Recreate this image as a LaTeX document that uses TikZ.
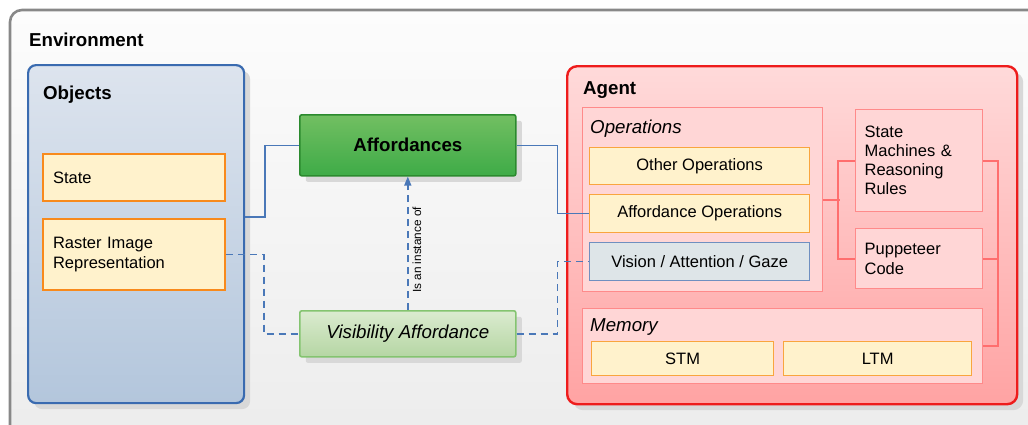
\documentclass[tikz,border=0pt]{standalone}
\usepackage{fontspec}
\setmainfont{Liberation Sans}
\usetikzlibrary{arrows.meta,shadows}

\definecolor{envline}{HTML}{888888}
\definecolor{envtop}{HTML}{FCFCFC}
\definecolor{envbot}{HTML}{ECECEC}
\definecolor{objline}{HTML}{3A6BB0}
\definecolor{objtop}{HTML}{DDE4EE}
\definecolor{objbot}{HTML}{B3C6DC}
\definecolor{noteline}{HTML}{F88A1C}
\definecolor{notefill}{HTML}{FFF2CC}
\definecolor{affline}{HTML}{2B8A2E}
\definecolor{afftop}{HTML}{72BF62}
\definecolor{affbot}{HTML}{3EAB47}
\definecolor{visline}{HTML}{84C470}
\definecolor{vistop}{HTML}{DBEBD0}
\definecolor{visbot}{HTML}{B5D6A3}
\definecolor{agentline}{HTML}{EE1C1C}
\definecolor{agenttop}{HTML}{FFDADA}
\definecolor{agentbot}{HTML}{FFA3A3}
\definecolor{partline}{HTML}{FF8A8A}
\definecolor{partfill}{HTML}{FFD6D6}
\definecolor{opline}{HTML}{F9A53E}
\definecolor{gazeline}{HTML}{6F8FC0}
\definecolor{gazefill}{HTML}{DEE5E8}
\definecolor{wire}{HTML}{4A78B8}
\definecolor{redwire}{HTML}{FF6E6E}
\definecolor{shade}{HTML}{D8D8D8}

\tikzset{
  body/.style={font=\fontsize{16.5}{19.5}\selectfont},
  head/.style={font=\bfseries\fontsize{18.7}{22}\selectfont, inner sep=0pt},
  headit/.style={font=\itshape\fontsize{18.7}{22}\selectfont, inner sep=0pt},
  shadowed/.style={drop shadow={shadow xshift=6pt, shadow yshift=-6pt, fill=shade, opacity=1}},
  objbox/.style={draw=objline, line width=2.2pt, rounded corners=8pt,
    top color=objtop, bottom color=objbot, shadowed, anchor=north west},
  notebox/.style={draw=noteline, line width=2pt, fill=notefill, anchor=north west,
    body, align=left, inner xsep=10pt},
  affbox/.style={draw=affline, line width=1.6pt, rounded corners=2pt,
    top color=afftop, bottom color=affbot, shadowed, anchor=north west,
    font=\bfseries\fontsize{18.7}{22}\selectfont},
  visbox/.style={draw=visline, line width=1.6pt, rounded corners=2pt,
    top color=vistop, bottom color=visbot, shadowed, anchor=north west,
    font=\itshape\fontsize{18.7}{22}\selectfont},
  agentbox/.style={draw=agentline, line width=2.4pt, rounded corners=10pt,
    top color=agenttop, bottom color=agentbot, shadowed, anchor=north west},
  partbox/.style={draw=partline, line width=1.3pt, fill=partfill, anchor=north west,
    body, align=left, inner xsep=9pt},
  opbox/.style={draw=opline, line width=1.3pt, fill=notefill, anchor=north west, body},
  gazebox/.style={draw=gazeline, line width=1.3pt, fill=gazefill, anchor=north west, body},
  wireline/.style={draw, color=wire, line width=1.5pt},
  dashwire/.style={wireline, dash pattern=on 7pt off 5pt},
  redline/.style={draw, color=redwire, line width=2pt},
}

\begin{document}
\begin{tikzpicture}[x=1pt, y=-1pt]
\useasboundingbox (0,0) rectangle (1028,424);

% environment frame, running off the right and bottom edges
\begin{scope}
  \clip (0,0) rectangle (1028,424);
  \path[draw=envline, line width=2.6pt, rounded corners=12pt,
        top color=envtop, bottom color=envbot] (10,10) rectangle (1050,450);
\end{scope}
\node[head, anchor=base west] (envlbl) at (29,46) {Environment};

% objects column
\node[objbox, minimum width=216pt, minimum height=338pt] (objects) at (27,64) {};
\node[head, anchor=base west] (objlbl) at (43,99) {Objects};
\node[notebox, minimum width=182pt, minimum height=47pt, text width=162pt] (state) at (42,153) {State};
\node[notebox, minimum width=182pt, minimum height=71pt, text width=162pt] (raster) at (42,218) {Raster Image\\Representation};

% affordances
\node[affbox, minimum width=216pt, minimum height=61pt] (aff) at (299,114) {Affordances};
\node[visbox, minimum width=216pt, minimum height=46pt] (vis) at (299,310) {Visibility Affordance};

% agent
\node[agentbox, minimum width=450pt, minimum height=338pt] (agent) at (566,65) {};
\node[head, anchor=base west] (agentlbl) at (583,94) {Agent};

\node[partbox, minimum width=240pt, minimum height=184pt] (ops) at (582,107) {};
\node[headit, anchor=base west] (opslbl) at (590,133) {Operations};
\node[opbox, minimum width=220pt, minimum height=37pt] (otherops) at (589,147) {Other Operations};
\node[opbox, minimum width=220pt, minimum height=38pt] (affops) at (589,194) {Affordance Operations};
\node[gazebox, minimum width=220pt, minimum height=38pt] (gaze) at (589,242) {Vision / Attention / Gaze};

\node[partbox, minimum width=127pt, minimum height=102pt, text width=109pt] (rules) at (855,109)
  {\baselineskip=18.7pt State\\Machines \&\\Reasoning\\Rules};
\node[partbox, minimum width=127pt, minimum height=60pt, text width=109pt] (pup) at (855,228)
  {\baselineskip=18.7pt Puppeteer\\Code};

\node[partbox, minimum width=400pt, minimum height=75pt] (mem) at (582,308) {};
\node[headit, anchor=base west] (memlbl) at (590,331) {Memory};
\node[opbox, minimum width=182pt, minimum height=34pt] (stm) at (591,341) {STM};
\node[opbox, minimum width=188pt, minimum height=34pt] (ltm) at (783,341) {LTM};

% links between objects, affordances and operations
\draw[wireline] ([yshift=17pt]objects.east) -- ++(20,0) |- (aff.west);
\draw[wireline] (aff.east) -- ++(41,0) |- (affops.west);
\draw[dashwire] (raster.east) -- ++(38,0) |- (vis.west);
\draw[dashwire] (vis.east) -- ++(41,0) |- (gaze.west);
\draw[dashwire, -{Triangle[length=9pt, width=7pt]}] (vis.north) --
  node[pos=0.45, rotate=90, anchor=north, inner sep=4pt, text=black,
       font=\fontsize{11.8}{14}\selectfont] (instlbl) {Is an instance of} (aff.south);

% internal agent wiring
\draw[redline] (ops.east) -- ++(17,0);
\draw[redline] (rules.west) -- ++(-17,0) |- (pup.west);
\draw[redline] (rules.east) -- ++(15,0) |- (mem.east);
\draw[redline] (pup.east) -- ++(15,0);
\end{tikzpicture}
\end{document}
